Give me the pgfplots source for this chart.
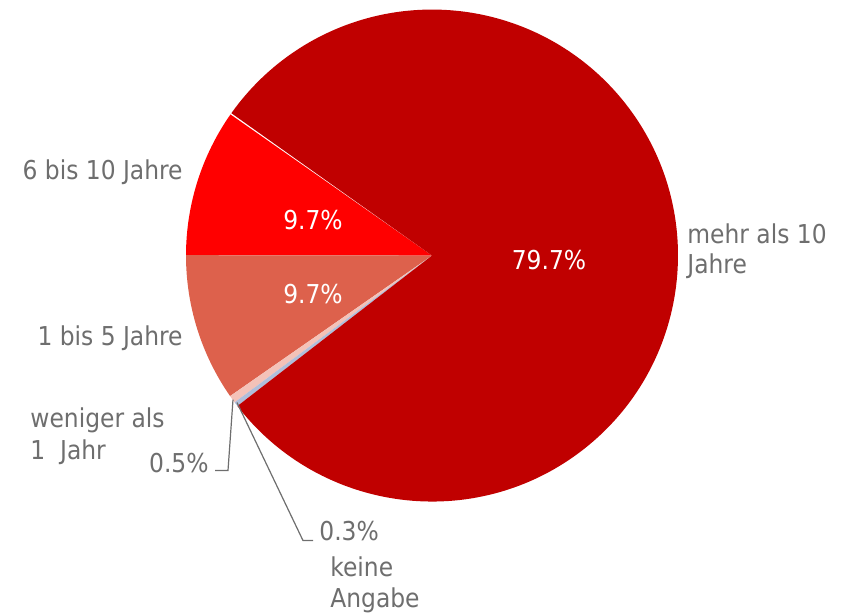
\documentclass[border=0pt]{standalone}
\usepackage{pgfplots}
\pgfplotsset{compat=1.18}
\usepackage{pgfplotstable}
\usepackage{fontspec}
\setmainfont{DejaVu Sans Condensed}

\definecolor{slice0}{HTML}{FF0000}
\definecolor{slice1}{HTML}{DD614C}
\definecolor{slice2}{HTML}{F4C2B8}
\definecolor{slice3}{HTML}{B0BEDA}
\definecolor{slice4}{HTML}{C00000}
\definecolor{labelgray}{HTML}{6E6E6E}

\tikzset{
  lbl/.style={font=\fontsize{13}{15}\selectfont, inner sep=0pt, text=labelgray},
  val/.style={font=\fontsize{13}{15}\selectfont, inner sep=0pt, text=white, anchor=base},
}

% shares in percent, counter-clockwise from 145 degrees
\pgfplotstableread{
label        value
6bis10       9.7
1bis5        9.7
unter1       0.5
keine        0.3
mehr10       79.7
}\piedata

% start/end angle of every slice
\xdef\pieacc{145}
\foreach \i in {0,...,4}{%
  \pgfplotstablegetelem{\i}{value}\of\piedata
  \pgfmathsetmacro\pieend{\pieacc+3.6*\pgfplotsretval}%
  \expandafter\xdef\csname pieS\i\endcsname{\pieacc}%
  \expandafter\xdef\csname pieE\i\endcsname{\pieend}%
  \xdef\pieacc{\pieend}%
}

\begin{document}
\begin{tikzpicture}
\begin{axis}[
    x=0.5pt, y=0.5pt,
    xmin=0, xmax=847, ymin=-613, ymax=0,
    scale only axis,
    hide axis,
    clip=false,
]
\path (axis cs:0,0) rectangle (axis cs:847,-613);

% slices: centre (432,-255), radius 246 px = 123pt
\pgfplotsinvokeforeach{0,...,4}{%
  \fill[slice#1] (axis cs:432,-255) -- ++(\csname pieS#1\endcsname:123pt)
     arc[start angle=\csname pieS#1\endcsname, end angle=\csname pieE#1\endcsname, radius=123pt] -- cycle;
}

% values inside
\node[val] at (axis cs:313,-229) {9.7\%};
\node[val] at (axis cs:313,-303) {9.7\%};
\node[val] at (axis cs:549,-269) {79.7\%};

% category labels
\node[lbl, anchor=base east] at (axis cs:183,-179) {6 bis 10 Jahre};
\node[lbl, anchor=base east] at (axis cs:183,-345) {1 bis 5 Jahre};
\node[lbl, anchor=base west] at (axis cs:30,-427) {weniger als};
\node[lbl, anchor=base west] at (axis cs:30,-459) {1\ \ Jahr};
\node[lbl, anchor=base west] at (axis cs:687,-243) {mehr als 10};
\node[lbl, anchor=base west] at (axis cs:687,-273) {Jahre};
\node[lbl, anchor=base west] at (axis cs:330,-576) {keine};
\node[lbl, anchor=base west] at (axis cs:330,-607) {Angabe};

% leader lines and small values
\draw[labelgray, line width=0.6pt] (axis cs:233,-399) -- (axis cs:228,-470) -- (axis cs:215,-470);
\node[lbl, anchor=base east] at (axis cs:209,-472) {0.5\%};
\draw[labelgray, line width=0.6pt] (axis cs:237,-402) -- (axis cs:303,-540) -- (axis cs:313,-540);
\node[lbl, anchor=base west] at (axis cs:319,-540) {0.3\%};
\end{axis}
\end{tikzpicture}
\end{document}
